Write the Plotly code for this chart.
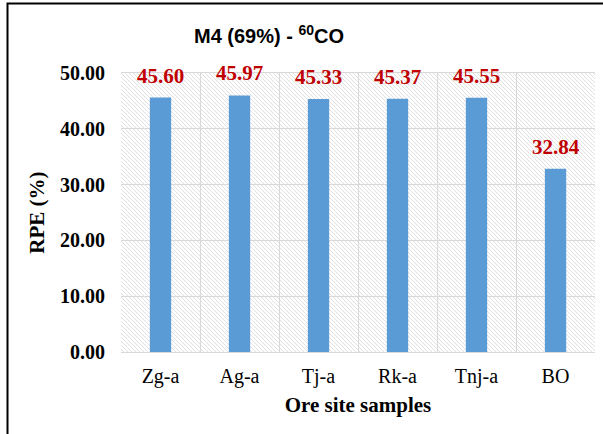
import plotly.graph_objects as go
import base64

categories = ["Zg-a", "Ag-a", "Tj-a", "Rk-a", "Tnj-a", "BO"]
rpe_values = [45.60, 45.97, 45.33, 45.37, 45.55, 32.84]
y_ticks = [0, 10, 20, 30, 40, 50]
y_tick_labels = ["0.00", "10.00", "20.00", "30.00", "40.00", "50.00"]

W, H = 603, 434
L, R, T, B = 121, 8, 73, 82
pw, ph = W - L - R, H - T - B

svg = (
    f'<svg xmlns="http://www.w3.org/2000/svg" width="{pw}" height="{ph}">'
    '<defs><pattern id="p" patternUnits="userSpaceOnUse" width="4" height="4">'
    '<path d="M-1,-1 L5,5 M-1,3 L1,5 M3,-1 L5,1" stroke="#e0e0e0" stroke-width="1"/>'
    '</pattern></defs>'
    f'<rect width="{pw}" height="{ph}" fill="white"/>'
    f'<rect width="{pw}" height="{ph}" fill="url(#p)"/></svg>'
)
svg_uri = "data:image/svg+xml;base64," + base64.b64encode(svg.encode()).decode()

fig = go.Figure()
fig.add_trace(go.Bar(
    x=categories, y=rpe_values, width=0.27,
    marker=dict(color="#5B9BD5", line=dict(width=0)),
    hoverinfo="skip",
))

for c, v in zip(categories, rpe_values):
    fig.add_annotation(
        x=c, y=v, text=f"<b>{v:.2f}</b>", showarrow=False,
        yanchor="bottom", yshift=8,
        font=dict(family="Liberation Serif", size=21, color="#C00000"),
    )

fig.add_layout_image(dict(
    source=svg_uri, xref="paper", yref="paper", x=0, y=1, sizex=1, sizey=1,
    xanchor="left", yanchor="top", sizing="stretch", layer="below",
))

# outer border (top and left visible)
fig.add_shape(type="rect", xref="paper", yref="paper",
              x0=(7.5 - L) / pw, x1=1.2, y0=-0.6, y1=1 + (T - 3.5) / ph,
              line=dict(color="black", width=2), fillcolor="rgba(0,0,0,0)")

fig.update_layout(
    width=W, height=H,
    margin=dict(l=L, r=R, t=T, b=B, pad=0),
    paper_bgcolor="white", plot_bgcolor="rgba(0,0,0,0)",
    showlegend=False,
    title=dict(text="<b>M4 (69%) - <sup>60</sup>CO</b>", x=269 / W, xanchor="center",
               y=1 - 36 / H, yanchor="middle",
               font=dict(family="Liberation Sans", size=20, color="black")),
    bargap=0.73,
)
fig.update_xaxes(
    type="category", tickson="boundaries", showgrid=True, gridcolor="#d9d9d9",
    gridwidth=1, ticks="", showline=True, linecolor="#d9d9d9", mirror=True,
    tickfont=dict(family="Liberation Serif", size=20, color="black"),
    ticklabelstandoff=6,
    title=dict(text="<b>Ore site samples</b>", standoff=10,
               font=dict(family="Liberation Serif", size=21, color="black")),
)
fig.update_yaxes(
    range=[0, 50], tickvals=y_ticks, ticktext=[f"<b>{t}</b>" for t in y_tick_labels],
    showgrid=True, gridcolor="#d9d9d9", gridwidth=1, zeroline=False,
    showline=False, ticks="", ticklabelstandoff=15,
    tickfont=dict(family="Liberation Serif", size=20, color="black"),
    title=dict(text="<b>RPE (%)</b>", standoff=9,
               font=dict(family="Liberation Serif", size=21, color="black")),
)

fig.write_html("out.html")
